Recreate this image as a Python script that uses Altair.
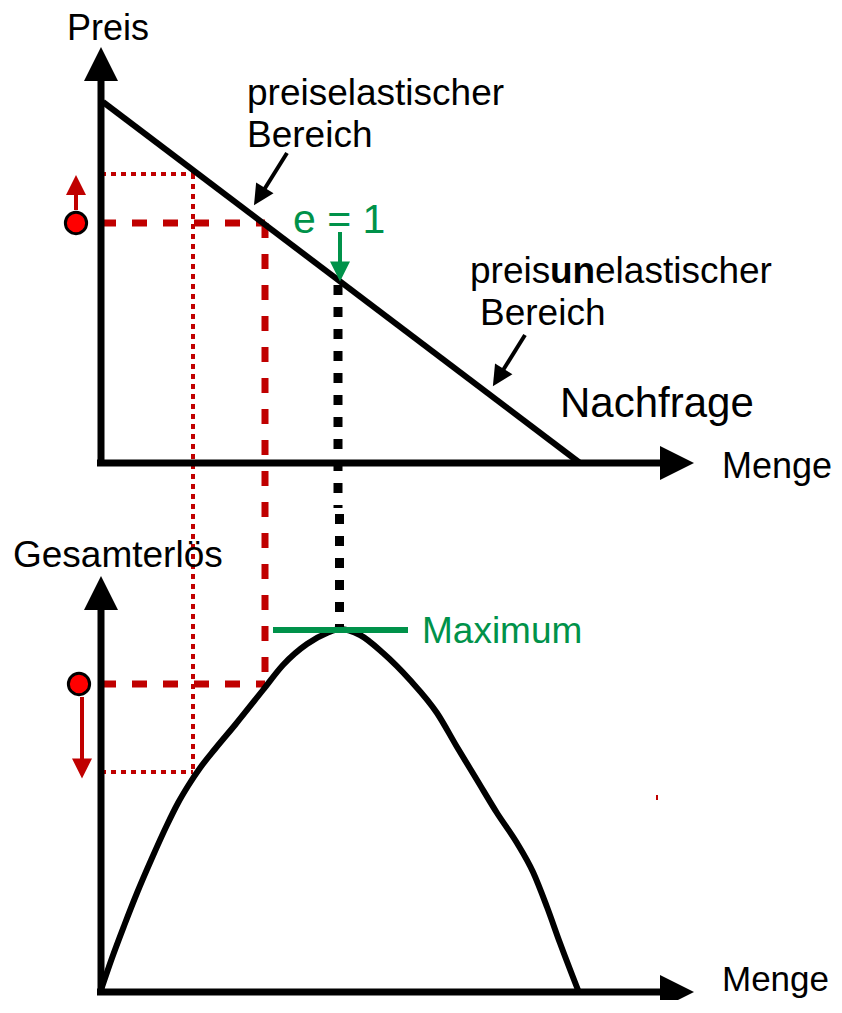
import altair as alt
import pandas as pd

# ---- diagram values (reference pixel space: x right, y down) ----
BLACK = "#000000"
RED = "#C00000"
RED_FILL = "#FF0000"
GREEN = "#00924A"

# solid segments: axes, demand line, green maximum, arrow shafts
seg_x1 = [101, 97, 101, 97, 103, 273, 340, 76, 82, 287, 525, 657]
seg_y1 = [463, 463, 992, 992, 102, 630, 232, 210, 697, 153, 335, 795]
seg_x2 = [101, 662, 101, 662, 580, 408, 340, 76, 82, 262, 500, 657]
seg_y2 = [78, 463, 608, 992, 463, 630, 265, 192, 760, 193, 375, 800]
seg_w = [7, 7, 7, 7, 6, 6, 4, 4, 4, 4, 4, 2]
seg_c = [BLACK, BLACK, BLACK, BLACK, BLACK, GREEN, GREEN, RED, RED, BLACK, BLACK, RED]

# red thick dashed guide lines
dash_x1 = [101, 265, 101]
dash_y1 = [223, 223, 684]
dash_x2 = [265, 265, 265]
dash_y2 = [223, 684, 684]

# red thin dotted guide lines
dot_x1 = [101, 193, 101]
dot_y1 = [174, 174, 772]
dot_x2 = [193, 193, 193]
dot_y2 = [174, 772, 772]

# black thick dotted connector (e = 1 -> Maximum)
bdot_x1 = [338, 339.5]
bdot_y1 = [285, 514]
bdot_x2 = [338, 339.5]
bdot_y2 = [508, 628]

# total revenue curve
rev_x = [101, 112, 124, 137, 152, 167, 178, 188, 200, 215, 235, 263, 283, 307,
         327, 340, 360, 383, 410, 437, 457, 477, 497, 517, 533, 547, 560, 578]
rev_y = [990, 958, 926, 893, 858, 825, 803, 786, 768, 749, 725, 690, 665, 644,
         633, 629, 635, 653, 680, 713, 747, 780, 813, 843, 872, 907, 943, 990]

# arrow heads (centre, size, rotation)
head_x = [101, 677, 101, 677, 340, 76, 82, 259.4, 498.3]
head_y = [64, 463, 593, 992, 271.5, 185, 768.5, 196.6, 377.5]
head_s = [1156, 1156, 1156, 1156, 400, 400, 400, 420, 420]
head_a = [0, 90, 0, 90, 180, 0, 180, 212, 212]
head_c = [BLACK, BLACK, BLACK, BLACK, GREEN, RED, RED, BLACK, BLACK]

# red price / revenue markers
circ_x = [76, 79]
circ_y = [223, 684]

# labels
lab_text = ["Preis", "preiselastischer", "Bereich", "e = 1", "preis",
            "elastischer", "Bereich", "Nachfrage", "Menge", "Gesamterlös",
            "Maximum", "Menge"]
lab_x = [67, 247, 247, 293, 470, 595, 480, 560, 722, 13, 422, 722]
lab_y = [40, 105, 147, 233, 283, 283, 325, 417, 478, 567, 643, 991]
lab_size = [36, 37, 37, 41, 37, 37, 37, 42, 36, 37, 37, 35]
lab_color = [BLACK, BLACK, BLACK, GREEN, BLACK, BLACK, BLACK, BLACK, BLACK,
             BLACK, GREEN, BLACK]
bold_text = ["un"]
bold_x = [550]
bold_y = [283]

# ---- chart ----
W, H = 826, 992
xs = alt.Scale(domain=[8, 8 + W], nice=False, zero=False)
ys = alt.Scale(domain=[8, 8 + H], nice=False, zero=False, reverse=True)
FONT = "Liberation Sans"

seg_df = pd.DataFrame(dict(x=seg_x1, y=seg_y1, x2=seg_x2, y2=seg_y2, w=seg_w, c=seg_c))
dash_df = pd.DataFrame(dict(x=dash_x1, y=dash_y1, x2=dash_x2, y2=dash_y2))
dot_df = pd.DataFrame(dict(x=dot_x1, y=dot_y1, x2=dot_x2, y2=dot_y2))
bdot_df = pd.DataFrame(dict(x=bdot_x1, y=bdot_y1, x2=bdot_x2, y2=bdot_y2))
rev_df = pd.DataFrame(dict(x=rev_x, y=rev_y))
head_df = pd.DataFrame(dict(x=head_x, y=head_y, s=head_s, a=head_a, c=head_c))
circ_df = pd.DataFrame(dict(x=circ_x, y=circ_y))
lab_df = pd.DataFrame(dict(t=lab_text, x=lab_x, y=lab_y, s=lab_size, c=lab_color))
bold_df = pd.DataFrame(dict(t=bold_text, x=bold_x, y=bold_y))

X = lambda: alt.X("x:Q", scale=xs, axis=None)
Y = lambda: alt.Y("y:Q", scale=ys, axis=None)

dots = alt.Chart(dot_df).mark_rule(color=RED, strokeWidth=4, strokeDash=[5, 5]).encode(
    X(), Y(), x2="x2:Q", y2="y2:Q")
dashes = alt.Chart(dash_df).mark_rule(color=RED, strokeWidth=7, strokeDash=[15, 16]).encode(
    X(), Y(), x2="x2:Q", y2="y2:Q")
bdots = alt.Chart(bdot_df).mark_rule(color=BLACK, strokeWidth=9, strokeDash=[10, 12]).encode(
    X(), Y(), x2="x2:Q", y2="y2:Q")
curve = alt.Chart(rev_df).mark_line(color=BLACK, strokeWidth=6, interpolate="monotone").encode(
    X(), Y(), order="x:Q")
segs = alt.Chart(seg_df).mark_rule().encode(
    X(), Y(), x2="x2:Q", y2="y2:Q",
    strokeWidth=alt.StrokeWidth("w:Q", scale=None),
    color=alt.Color("c:N", scale=None))
heads = alt.Chart(head_df).mark_point(
    shape="M0,-1L1,1L-1,1Z", filled=True, opacity=1, strokeWidth=0).encode(
    X(), Y(),
    size=alt.Size("s:Q", scale=None),
    angle=alt.Angle("a:Q", scale=None),
    color=alt.Color("c:N", scale=None))
circles = alt.Chart(circ_df).mark_point(
    shape="circle", filled=True, fill=RED_FILL, stroke=BLACK, strokeWidth=3,
    opacity=1, size=452).encode(X(), Y())
labels = alt.Chart(lab_df).mark_text(
    align="left", baseline="alphabetic", font=FONT).encode(
    X(), Y(), text="t:N",
    size=alt.Size("s:Q", scale=None),
    color=alt.Color("c:N", scale=None))
bold = alt.Chart(bold_df).mark_text(
    align="left", baseline="alphabetic", font=FONT, fontWeight="bold",
    fontSize=37, color=BLACK).encode(X(), Y(), text="t:N")

chart = alt.layer(dots, dashes, bdots, curve, segs, heads, circles, labels, bold).properties(
    width=W, height=H, padding=0, autosize=alt.AutoSizeParams(type="none")
).configure_view(stroke=None)

chart.save("out.html", embed_options={"renderer": "svg", "actions": False})
